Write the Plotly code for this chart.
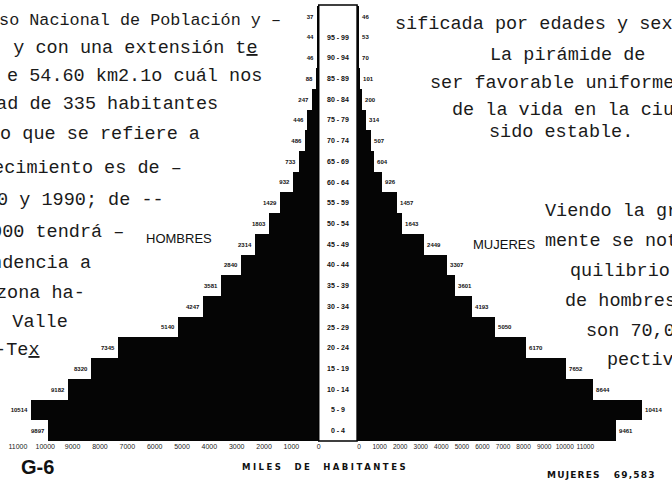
import plotly.graph_objects as go

W, H = 672, 481

# ---------------- data ----------------
age_groups = ["0-4", "5-9", "10-14", "15-19", "20-24", "25-29", "30-34", "35-39",
              "40-44", "45-49", "50-54", "55-59", "60-64", "65-69", "70-74", "75-79",
              "80-84", "85-89", "90-94", "95-99", "100+"]
age_labels = ["0 - 4", "5 - 9", "10 - 14", "15 - 19", "20 - 24", "25 - 29", "30 - 34",
              "35 - 39", "40 - 44", "45 - 49", "50 - 54", "55 - 59", "60 - 64", "65 - 69",
              "70 - 74", "75 - 79", "80 - 84", "85 - 89", "90 - 94", "95 - 99", ""]
hombres = [9897, 10514, 9182, 8320, 7345, 5140, 4247, 3581, 2840, 2314, 1803, 1429,
           932, 733, 486, 446, 247, 88, 46, 44, 37]
mujeres = [9461, 10414, 8644, 7652, 6170, 5050, 4193, 3601, 3307, 2449, 1643, 1457,
           926, 604, 507, 314, 200, 101, 70, 53, 46]
tick_values = [0, 1000, 2000, 3000, 4000, 5000, 6000, 7000, 8000, 9000, 10000, 11000]
tick_text = [str(v) for v in tick_values]

# ---------------- layout helpers ----------------
def px(x):
    return x / W

def py(y):
    return 1 - y / H

LEFT_ZERO = 322
RIGHT_ZERO = 361
SCALE = 27.8 / 1000  # pixels per inhabitant
ROW_TOP, ROW_BOTTOM = 6, 441

fig = go.Figure()
fig.add_trace(go.Bar(
    y=age_groups, x=hombres, orientation="h", xaxis="x", yaxis="y",
    marker=dict(color="#050505", line=dict(width=0)),
    text=hombres, textposition="outside", cliponaxis=False, constraintext="none",
    textfont=dict(family="Liberation Sans", size=6, color="#111", weight="bold"),
    showlegend=False, hoverinfo="skip"))
fig.add_trace(go.Bar(
    y=age_groups, x=mujeres, orientation="h", xaxis="x2", yaxis="y",
    marker=dict(color="#050505", line=dict(width=0)),
    text=mujeres, textposition="outside", cliponaxis=False, constraintext="none",
    textfont=dict(family="Liberation Sans", size=6, color="#111", weight="bold"),
    showlegend=False, hoverinfo="skip"))
# invisible helper so that the printed scale under the right half is drawn
fig.add_trace(go.Scatter(
    x=[tick_values[0]], y=[age_groups[0]], xaxis="x3", yaxis="y", mode="markers",
    marker=dict(opacity=0), showlegend=False, hoverinfo="skip"))

tickfont = dict(family="Liberation Sans", size=7, color="#222")
fig.update_layout(
    width=W, height=H,
    margin=dict(l=0, r=0, t=0, b=0),
    paper_bgcolor="white", plot_bgcolor="rgba(0,0,0,0)",
    bargap=0,
    xaxis=dict(domain=[0, px(LEFT_ZERO)], range=[LEFT_ZERO / SCALE, 0], anchor="y",
               tickvals=tick_values, ticktext=tick_text, tickfont=tickfont, tickangle=0,
               showgrid=False, zeroline=False, showline=False, ticks=""),
    xaxis2=dict(domain=[px(RIGHT_ZERO), 1], range=[0, (W - RIGHT_ZERO) / SCALE], anchor="y",
                showticklabels=False, showgrid=False, zeroline=False, showline=False, ticks=""),
    xaxis3=dict(domain=[px(363), px(593)], range=[0, 11000], anchor="y",
                tickvals=tick_values, ticktext=tick_text, tickangle=0,
                tickfont=dict(family="Liberation Sans", size=6.5, color="#222"),
                showgrid=False, zeroline=False, showline=False, ticks=""),
    yaxis=dict(domain=[py(ROW_BOTTOM), py(ROW_TOP)], type="category",
               categoryorder="array", categoryarray=age_groups, range=[-0.5, 20.5],
               showticklabels=False, showgrid=False, zeroline=False, showline=False),
)

# central white column with the age labels
fig.add_shape(type="rect", xref="paper", yref="paper",
              x0=px(LEFT_ZERO), x1=px(RIGHT_ZERO), y0=py(ROW_BOTTOM), y1=py(ROW_TOP - 1),
              line=dict(color="black", width=1.5), fillcolor="white", layer="above")

annotations = []
for cat, lab in zip(age_groups, age_labels):
    annotations.append(dict(x=px(341.5), xref="paper", y=cat, yref="y", text=lab,
                            showarrow=False, xanchor="center", yanchor="middle",
                            font=dict(family="Liberation Sans", size=7, color="#111",
                                      weight="bold")))

mono = dict(family="Liberation Mono", size=18.5, color="#1a1a1a")
mono_small = dict(family="Liberation Mono", size=16.8, color="#1a1a1a")
# typed text of the page around the chart (left column, right-aligned ends)
left_text = [
    ("nso Nacional de Población y –", 286, 20, mono_small),
    ("), y con una extensión t<u>e</u>", 262, 49, mono),
    ("e 54.60 km2.1o cuál nos", 266, 77, mono),
    ("dad de 335 habitantes", 222, 104, mono),
    ("lo que se refiere a", 203, 134, mono),
    ("recimiento es de –", 185, 168, mono),
    ("80 y 1990; de --", 167, 201, mono),
    ("2000 tendrá –", 126, 232, mono),
    ("endencia a", 93, 263, mono),
    ("zona ha-", 86, 293, mono),
    ("l. Valle", 69, 322, mono),
    ("n-Te<u>x</u>", 41, 350, mono),
]
for t, xr, yc, f in left_text:
    annotations.append(dict(x=px(xr), y=py(yc), xref="paper", yref="paper", text=t,
                            showarrow=False, xanchor="right", yanchor="middle", font=f))

right_text = [
    ("sificada por edades y sexo", 398, 24),
    ("La pirámide de", 494, 55),
    ("ser favorable uniforme", 433, 83),
    ("de la vida en la ciudad", 455, 110),
    ("sido estable.", 493, 132),
    ("Viendo la gráfica", 550, 211),
    ("mente se nota", 550, 241),
    ("quilibrio", 575, 271),
    ("de hombres", 570, 301),
    ("son 70,000", 592, 331),
    ("pectivamente", 613, 360),
]
for t, xl, yc in right_text:
    annotations.append(dict(x=px(xl), y=py(yc), xref="paper", yref="paper", text=t,
                            showarrow=False, xanchor="left", yanchor="middle", font=mono))

sans = "Liberation Sans"
annotations += [
    dict(x=px(180), y=py(238), xref="paper", yref="paper", text="HOMBRES", showarrow=False,
         xanchor="center", yanchor="middle", font=dict(family=sans, size=13, color="#111")),
    dict(x=px(510), y=py(244), xref="paper", yref="paper", text="MUJERES", showarrow=False,
         xanchor="center", yanchor="middle", font=dict(family=sans, size=13, color="#111")),
    dict(x=px(17), y=py(467), xref="paper", yref="paper", text="G-6", showarrow=False,
         xanchor="left", yanchor="middle",
         font=dict(family=sans, size=20, color="#111", weight="bold")),
    dict(x=px(328), y=py(467), xref="paper", yref="paper",
         text='<span style="letter-spacing:2.5px">MILES  DE  HABITANTES</span>',
         showarrow=False, xanchor="center", yanchor="middle",
         font=dict(family="DejaVu Sans", size=8.5, color="#111", weight="bold")),
    dict(x=px(552), y=py(475), xref="paper", yref="paper",
         text='<span style="letter-spacing:1.2px">MUJERES   69,583</span>',
         showarrow=False, xanchor="left", yanchor="middle",
         font=dict(family="DejaVu Sans", size=9, color="#111", weight="bold")),
]
fig.update_layout(annotations=annotations)

fig.write_html("out.html", config={"displayModeBar": False},
               post_script="document.body.style.margin='0px';")
